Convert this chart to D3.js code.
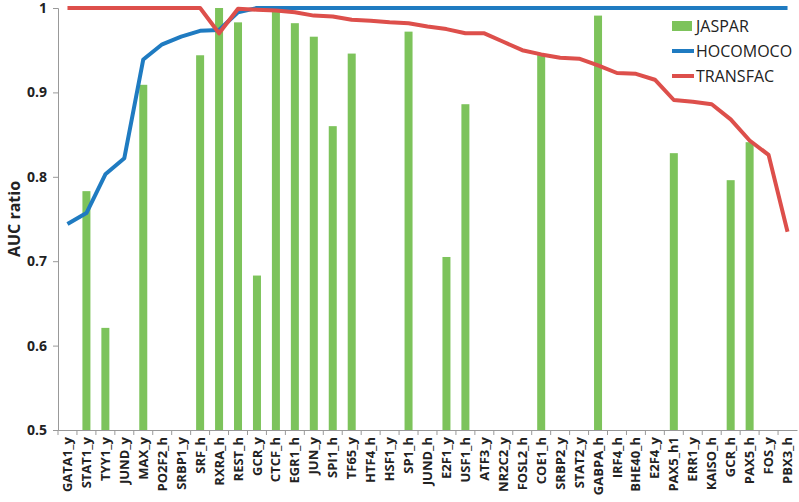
<!DOCTYPE html>
<html>
<head>
<meta charset="utf-8">
<script src="https://cdn.jsdelivr.net/npm/d3@7"></script>
<style>
  html, body { margin: 0; padding: 0; background: #fff; overflow: hidden; }
  svg { display: block; }
  text { font-family: "Open Sans", "Noto Sans", sans-serif; }
</style>
</head>
<body>
<svg width="799" height="502"></svg>
<script>
const categories = ["GATA1_y","STAT1_y","TYY1_y","JUND_y","MAX_y","PO2F2_h","SRBP1_y","SRF_h","RXRA_h","REST_h",
  "GCR_y","CTCF_h","EGR1_h","JUN_y","SPI1_h","TF65_y","HTF4_h","HSF1_y","SP1_h","JUND_h",
  "E2F1_y","USF1_h","ATF3_y","NR2C2_y","FOSL2_h","COE1_h","SRBP2_y","STAT2_y","GABPA_h","IRF4_h",
  "BHE40_h","E2F4_y","PAX5_h1","ERR1_y","KAISO_h","GCR_h","PAX5_h","FOS_y","PBX3_h"];

const jaspar = [0.5,0.783,0.621,0.5,0.909,0.5,0.5,0.944,1.0,0.983,
  0.683,0.998,0.982,0.966,0.860,0.946,0.5,0.5,0.972,0.5,
  0.705,0.886,0.5,0.5,0.5,0.945,0.5,0.5,0.991,0.5,
  0.5,0.5,0.828,0.5,0.5,0.796,0.841,0.5,0.5];

const hocomoco = [0.744,0.757,0.803,0.822,0.939,0.957,0.966,0.973,0.974,0.995,
  1,1,1,1,1,1,1,1,1,1,
  1,1,1,1,1,1,1,1,1,1,
  1,1,1,1,1,1,1,1,1];

const transfac = [1,1,1,1,1,1,1,1,0.970,0.999,
  0.998,0.997,0.995,0.991,0.990,0.986,0.985,0.983,0.982,0.978,
  0.975,0.970,0.970,0.960,0.950,0.945,0.941,0.940,0.932,0.923,
  0.922,0.915,0.891,0.889,0.886,0.868,0.843,0.826,0.735];

const yTicks = [0.5, 0.6, 0.7, 0.8, 0.9, 1];

const green = "#7dc35b", blue = "#1f7bc1", red = "#dd4f4b";

const svg = d3.select("svg");
const margin = { top: 8, left: 58, right: 2, bottom: 72 };
const w = 799, h = 502;
const innerWidth = w - margin.left - margin.right;
const innerHeight = h - margin.top - margin.bottom;

const g = svg.append("g").attr("transform", `translate(${margin.left},${margin.top})`);

const x = d3.scaleBand().domain(categories).range([0, innerWidth]);
const y = d3.scaleLinear().domain([0.5, 1]).range([innerHeight, 0]);

// bars
const barW = 8;
g.selectAll("rect.bar")
  .data(categories)
  .enter().append("rect")
  .attr("class", "bar")
  .attr("x", (d) => x(d) + x.bandwidth() / 2 - barW / 2)
  .attr("y", (d, i) => y(jaspar[i]))
  .attr("width", barW)
  .attr("height", (d, i) => innerHeight - y(jaspar[i]))
  .attr("fill", green);

// y axis
const yAxis = g.append("g").call(d3.axisLeft(y).tickValues(yTicks).tickSize(5).tickFormat(d3.format("")));
yAxis.select(".domain").attr("stroke", "#999");
yAxis.selectAll(".tick line").attr("stroke", "#999");
yAxis.selectAll(".tick text")
  .attr("font-size", 14).attr("font-weight", "bold").attr("fill", "#222").attr("x", -11);

// x axis (ticks between categories)
const xAxis = g.append("g").attr("transform", `translate(0,${innerHeight})`)
  .call(d3.axisBottom(x).tickSize(0).tickSizeOuter(0));
xAxis.select(".domain").attr("stroke", "#999");
xAxis.selectAll(".tick text")
  .attr("font-size", 13).attr("font-weight", "bold").attr("fill", "#222")
  .attr("transform", "rotate(-90)")
  .attr("text-anchor", "end")
  .attr("x", -7).attr("y", 0).attr("dy", "0.35em");
xAxis.selectAll("line.sep")
  .data(categories)
  .enter().append("line")
  .attr("class", "sep")
  .attr("x1", (d) => x(d)).attr("x2", (d) => x(d))
  .attr("y1", 0).attr("y2", 5)
  .attr("stroke", "#999");

// lines
const line = (vals) => d3.line()
  .x((d, i) => x(categories[i]) + x.bandwidth() / 2)
  .y((d) => y(d))(vals);

g.append("path").attr("d", line(hocomoco))
  .attr("fill", "none").attr("stroke", blue).attr("stroke-width", 4).attr("stroke-linejoin", "round");
g.append("path").attr("d", line(transfac))
  .attr("fill", "none").attr("stroke", red).attr("stroke-width", 4).attr("stroke-linejoin", "round");

// y label
svg.append("text")
  .attr("transform", `translate(20,${margin.top + innerHeight / 2})rotate(-90)`)
  .attr("text-anchor", "middle")
  .attr("font-size", 16).attr("font-weight", "bold").attr("fill", "#222")
  .text("AUC ratio");

// legend
const legend = svg.append("g").attr("transform", "translate(672,26)");
const items = [
  { name: "JASPAR", color: green, type: "rect" },
  { name: "HOCOMOCO", color: blue, type: "line" },
  { name: "TRANSFAC", color: red, type: "line" }
];
items.forEach((it, i) => {
  const row = legend.append("g").attr("transform", `translate(0,${i * 25})`);
  if (it.type === "rect") {
    row.append("rect").attr("x", 0).attr("y", -5).attr("width", 20).attr("height", 10).attr("fill", it.color);
  } else {
    row.append("line").attr("x1", 0).attr("x2", 22).attr("y1", 0).attr("y2", 0)
      .attr("stroke", it.color).attr("stroke-width", 4);
  }
  row.append("text").attr("x", 24).attr("y", 0).attr("dy", "0.35em")
    .attr("font-size", 16).attr("fill", "#222").text(it.name);
});
</script>
</body>
</html>
